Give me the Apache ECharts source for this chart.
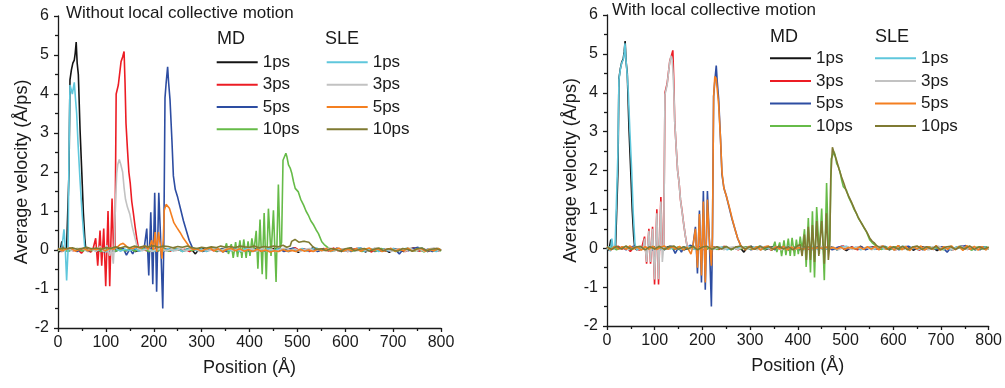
<!DOCTYPE html>
<html><head><meta charset="utf-8">
<script src="https://cdn.jsdelivr.net/npm/echarts@6/dist/echarts.min.js"></script>
<style>html,body{margin:0;padding:0;background:#fff}#c{width:1005px;height:388px}</style>
</head><body><div id="c"></div>
<script>
// ---- data (x in Å, y in Å/ps) ----
const xTicks = [0,100,200,300,400,500,600,700,800];
const yTicks = [-2,-1,0,1,2,3,4,5,6];
const timeLabels = ['1ps','3ps','5ps','10ps'];
const titles = ['Without local collective motion','With local collective motion'];

const mdBlack = [[0,0.02],[4,-0.05],[8,0.22],[11,-0.02],[15,0.03],[18,0.05],[21,0.08],[23,2.0],[25,4.36],[28,4.62],[31,4.79],[34,4.87],[36,5.05],[38,5.33],[40,4.8],[42.5,4.5],[46,3.1],[50,1.9],[53,0.95],[56,0.3],[58,0.02],
[62,-0.04],[72,0.03],[82,-0.05],[92,0.02],[102,0.04],[112,-0.03],[122,0.01],[132,0.05],[142,-0.02],[152,0.03],[162,-0.04],[172,0.02],[182,0.05],[192,-0.03],[202,0.01],[212,0.04],[222,-0.02],[232,0.03],[242,-0.01],[252,0.02],[262,-0.03],[272,0.04],[280,0.0],[287,-0.1],[294,0.02],[302,0.05],[312,-0.02],[322,0.03],[332,-0.04],[342,0.02],[352,0.05],[362,-0.01],[372,0.03],[382,-0.05],[392,0.02],[402,0.04],[412,-0.02],[422,0.03],[432,-0.03],[442,0.01],[452,0.04],[462,-0.02],[472,0.03],[482,-0.04],[492,0.02],[502,-0.06],[512,0.03],[522,-0.02],[532,0.05],[542,-0.03],[552,0.02],[562,0.04],[572,-0.02],[582,0.03],[592,-0.04],[602,0.02],[612,0.05],[622,-0.01],[632,0.03],[642,-0.05],[652,0.02],[662,0.04],[672,-0.03],[682,0.02],[692,-0.06],[702,0.03],[712,0.01],[722,-0.04],[732,0.02],[742,0.05],[752,-0.02],[762,0.03],[772,-0.04],[782,0.02],[792,0.04],[800,-0.01]];

const mdRed = [[0,0.03],[8,-0.04],[16,0.02],[24,0.05],[32,-0.02],[40,0.03],[49,-0.08],[56,0.02],[62,0.04],[68,-0.06],[73,0.02],[76,0.02],[78.7,0.3],[83,-0.4],[87.8,0.5],[91.3,-0.4],[95.5,0.55],[99.7,-0.93],[104.5,1.0],[108,-0.93],[112.9,1.32],[116,0.0],[119,0.1],[121.5,4.0],[126,4.23],[131.7,4.83],[135,4.95],[138,5.09],[140,4.3],[142,3.25],[145,2.6],[148,2.0],[151,1.7],[154,1.25],[157.5,0.94],[161,0.6],[164.5,0.3],[168,0.05],
[175,0.03],[185,-0.02],[195,0.04],[205,-0.05],[215,0.02],[225,0.03],[235,-0.03],[245,0.05],[255,-0.01],[265,0.02],[275,-0.04],[285,0.03],[295,0.01],[305,-0.03],[315,0.04],[325,-0.02],[335,0.02],[345,-0.05],[355,0.03],[365,0.0],[375,0.04],[385,-0.03],[395,0.02],[405,-0.02],[415,0.05],[425,-0.04],[435,0.02],[445,0.03],[455,-0.02],[465,0.04],[475,-0.03],[485,0.02],[495,0.06],[505,-0.02],[515,0.03],[525,-0.04],[535,0.02],[545,0.0],[555,0.04],[565,-0.03],[575,0.05],[585,-0.02],[595,0.03],[605,-0.04],[615,0.02],[625,0.04],[635,-0.03],[645,0.02],[655,-0.05],[665,0.03],[675,0.01],[685,-0.03],[695,0.04],[705,-0.02],[715,0.03],[725,-0.04],[735,0.02],[745,0.05],[755,-0.03],[765,0.02],[775,-0.02],[785,0.04],[795,-0.03],[800,0.01]];

const mdBlue = [[0,0.02],[8,-0.03],[16,0.04],[24,-0.02],[32,0.03],[40,-0.04],[48,0.02],[56,0.05],[64,-0.03],[72,0.02],[80,-0.02],[88,0.04],[96,-0.05],[104,0.02],[112,0.03],[120,-0.04],[128,0.02],[136,0.05],[143,-0.13],[150,0.03],[156,-0.1],[162,0.04],[168,-0.03],[174,0.08],[180,0.05],[185.4,0.55],[189.6,-0.65],[193.8,0.97],[198,-0.88],[202,1.47],[206,-1.07],[210.5,1.47],[214,0.4],[218.8,-1.5],[221,0.2],[223.5,3.9],[226,4.3],[229,4.7],[231,4.3],[234,3.85],[238,2.8],[241,1.9],[245,1.55],[250,1.35],[256,1.05],[262,0.75],[268,0.5],[274,0.25],[280,0.08],[284,0.0],
[292,0.03],[302,-0.04],[312,0.02],[322,0.05],[332,-0.02],[342,0.03],[352,-0.04],[362,0.02],[372,0.04],[382,-0.03],[392,0.02],[402,-0.05],[412,0.03],[422,0.01],[432,-0.03],[442,0.04],[452,-0.02],[462,0.03],[472,-0.04],[482,0.02],[492,0.05],[502,-0.03],[512,0.02],[522,-0.02],[532,0.04],[542,-0.04],[552,0.02],[562,0.03],[572,-0.03],[582,0.05],[592,-0.02],[602,0.02],[612,-0.04],[622,0.03],[632,0.05],[642,-0.02],[652,0.02],[662,-0.04],[672,0.03],[682,0.01],[692,-0.03],[702,0.04],[713,-0.1],[722,0.03],[732,-0.02],[742,0.04],[752,0.07],[762,-0.03],[772,0.02],[782,-0.04],[792,0.03],[800,0.0]];

const mdGreen = [[0,-0.02],[10,0.03],[20,-0.04],[30,0.02],[40,0.04],[50,-0.03],[60,0.02],[70,-0.02],[80,0.03],[90,-0.04],[100,0.02],[110,0.05],[120,-0.03],[130,0.02],[140,-0.02],[150,0.04],[160,-0.03],[170,0.02],[180,0.03],[190,-0.04],[200,0.02],[210,-0.02],[220,0.05],[230,-0.03],[240,0.02],[250,0.03],[260,-0.04],[270,0.02],[280,-0.02],[290,0.04],[300,-0.03],[310,0.02],[320,0.05],[330,-0.03],[340,0.02],[346,-0.05],
[352,0.17],[356,-0.1],[362,0.15],[366,-0.2],[371,0.2],[375,-0.18],[380,0.25],[384,-0.2],[388,0.27],[393,-0.2],[397,0.22],[401,-0.15],[405,0.3],[409,-0.05],[414,0.49],[417.5,-0.48],[422,0.78],[426.5,-0.62],[430.6,0.95],[435,-0.75],[439.5,1.06],[445,-0.15],[450,1.02],[455.5,-0.82],[460.3,1.68],[464,0.05],[467,0.2],[470,2.3],[473,2.35],[476,2.48],[478,2.4],[481.5,2.18],[485,2.1],[488.5,1.96],[492,1.75],[495.5,1.58],[502,1.49],[507,1.3],[513,1.15],[518,1.0],[523,0.89],[528,0.75],[534,0.64],[539,0.52],[544,0.42],[551,0.21],[556,0.14],[562,0.08],[568,0.02],
[575,-0.03],[585,0.03],[595,-0.02],[605,0.04],[615,-0.03],[625,0.02],[635,-0.04],[645,0.03],[655,0.01],[665,-0.03],[675,0.04],[685,-0.02],[695,0.02],[705,-0.04],[715,0.03],[725,-0.02],[735,0.04],[745,-0.03],[755,0.02],[765,-0.05],[775,0.03],[785,-0.02],[795,0.04],[800,-0.03]];

const sleCyanLeft = [[0,0.03],[4,-0.02],[8,0.05],[12.5,0.53],[15,0.1],[18,-0.78],[21,0.0],[23,2.5],[25,4.23],[28,4.26],[30,4.0],[32,4.02],[34,4.3],[35.5,4.32],[37,3.8],[39,3.5],[42,2.7],[46,1.79],[50,1.0],[53,0.5],[56,0.05],
[60,-0.03],[70,0.04],[80,-0.02],[90,0.03],[100,-0.05],[110,0.02],[120,0.04],[130,-0.03],[140,0.02],[150,-0.02],[160,0.05],[170,-0.03],[180,0.02],[190,0.03],[200,-0.04],[210,0.02],[220,-0.03],[230,0.04],[240,-0.02],[250,0.03],[260,-0.04],[270,0.02],[280,0.05],[290,-0.02],[300,0.03],[310,-0.04],[320,0.02],[330,0.03],[340,-0.03],[350,0.04],[360,-0.02],[370,0.03],[380,-0.04],[390,0.02],[400,0.05],[410,-0.03],[420,0.02],[430,-0.02],[440,0.04],[450,-0.03],[460,0.02],[470,0.03],[480,-0.04],[490,0.02],[500,-0.02],[510,0.04],[520,-0.03],[530,0.02],[540,0.05],[550,-0.02],[560,0.03],[570,-0.04],[580,0.02],[590,0.03],[600,-0.03],[610,0.04],[620,-0.02],[630,0.06],[640,-0.03],[650,0.02],[660,0.03],[670,-0.04],[680,0.02],[690,-0.02],[700,0.04],[710,-0.03],[720,0.02],[730,0.05],[740,-0.02],[750,0.03],[760,0.06],[770,-0.03],[780,0.02],[790,-0.04],[800,0.02]];

const sleGreyLeft = [[0,0.01],[10,-0.03],[20,0.04],[30,-0.02],[40,0.03],[50,0.05],[60,-0.03],[70,0.02],[80,-0.04],[88,0.1],[95,-0.05],[102,0.12],[108,-0.15],[112,0.05],[115.5,-0.35],[118,0.2],[120,1.2],[122.7,1.97],[125,2.2],[128,2.32],[131,2.2],[135,2.0],[138,1.6],[141,1.3],[145,1.1],[150,0.92],[155,0.6],[160,0.35],[164,0.15],[168,0.03],
[176,-0.02],[186,0.03],[196,-0.04],[206,0.02],[216,0.04],[226,-0.03],[236,0.02],[246,-0.02],[256,0.05],[266,-0.03],[276,0.02],[286,0.03],[296,-0.04],[306,0.02],[316,-0.02],[326,0.04],[336,-0.03],[346,0.02],[356,0.05],[366,-0.02],[376,0.03],[386,-0.04],[396,0.02],[406,0.03],[416,-0.03],[426,0.04],[436,-0.02],[446,0.02],[456,-0.04],[466,0.03],[476,0.05],[486,-0.02],[496,0.03],[506,-0.04],[516,0.02],[526,0.04],[536,-0.03],[546,0.02],[556,-0.02],[566,0.05],[576,-0.03],[586,0.02],[596,0.03],[606,-0.04],[616,0.02],[626,-0.02],[636,0.04],[646,-0.03],[656,0.02],[666,0.05],[676,-0.02],[686,0.03],[696,-0.04],[706,0.02],[716,0.03],[726,-0.03],[736,0.04],[746,-0.02],[756,0.02],[766,-0.04],[776,0.03],[786,0.05],[796,-0.02],[800,0.01]];

const sleOrangeLeft = [[0,0.04],[9,-0.02],[18,0.03],[27,0.05],[36,-0.03],[45,0.02],[54,0.04],[63,-0.02],[72,0.03],[81,0.01],[90,0.05],[99,-0.03],[108,0.04],[117,0.02],[126,0.1],[131,0.15],[136,0.17],[141,0.12],[146,0.06],[155,0.03],[164,0.08],[173,0.05],[182,0.1],[188,0.02],[192,0.1],[196,0.25],[199,0.0],[203,0.46],[206,-0.05],[210,0.46],[214,0.1],[217,-0.22],[220,0.3],[222,1.02],[225.8,1.17],[229,1.12],[232.7,1.07],[237,0.9],[242,0.7],[248,0.58],[255,0.45],[262,0.3],[269,0.18],[276,0.06],[282,0.01],
[290,0.03],[299,-0.03],[308,0.02],[317,0.05],[326,-0.02],[335,0.03],[344,-0.04],[353,0.02],[362,0.04],[371,-0.02],[380,0.03],[389,-0.03],[398,0.01],[407,-0.04],[416,0.02],[425,-0.03],[434,0.0],[443,-0.05],[452,-0.02],[461,-0.04],[470,0.01],[479,-0.03],[488,-0.01],[497,-0.04],[506,0.02],[515,-0.03],[524,0.0],[533,-0.04],[542,0.02],[551,-0.02],[560,0.04],[569,-0.03],[578,0.02],[587,0.05],[596,-0.03],[605,0.02],[614,-0.02],[623,0.04],[632,-0.03],[641,0.02],[650,0.05],[659,-0.02],[668,0.03],[677,-0.04],[686,0.02],[695,0.04],[704,-0.03],[713,0.02],[722,-0.02],[731,0.05],[740,-0.03],[749,0.02],[758,0.04],[767,-0.03],[776,0.02],[785,-0.02],[794,0.04],[800,0.0]];

const sleOliveLeft = [[0,0.02],[10,0.05],[20,0.03],[30,0.06],[40,0.02],[50,0.04],[60,0.07],[70,0.03],[80,0.05],[90,0.02],[100,0.06],[110,0.04],[120,0.08],[130,0.05],[140,0.09],[150,0.06],[160,0.1],[170,0.07],[180,0.1],[190,0.08],[200,0.11],[210,0.07],[220,0.1],[230,0.09],[240,0.06],[250,0.09],[260,0.07],[270,0.1],[280,0.06],[290,0.04],[300,0.07],[310,0.05],[320,0.08],[330,0.06],[340,0.1],[350,0.07],[360,0.09],[370,0.06],[380,0.1],[390,0.08],[400,0.07],[410,0.1],[420,0.06],[430,0.09],[440,0.07],[450,0.1],[460,0.08],[470,0.12],[478,0.07],
[485,0.1],[488,0.22],[491,0.25],[495,0.27],[499,0.28],[503,0.2],[507,0.17],[511,0.22],[516,0.22],[520,0.18],[524,0.2],[527,0.2],[531,0.1],[534,0.05],[540,0.02],
[550,0.03],[560,-0.02],[570,0.04],[580,0.01],[590,-0.03],[600,0.03],[610,0.05],[620,-0.02],[630,0.02],[640,0.04],[650,-0.03],[660,0.02],[670,0.05],[680,-0.02],[690,0.03],[700,0.0],[710,-0.03],[720,0.04],[730,0.02],[740,-0.03],[750,0.03],[760,0.05],[770,-0.02],[780,0.02],[790,0.04],[800,-0.01]];

const sleCyanRight = [[0,-0.03],[4,0.05],[7,-0.08],[10,0.25],[13,-0.02],[17,0.05],[21,0.1],[23,2.5],[25,4.33],[28,4.6],[30.7,4.76],[34,4.85],[36,5.0],[37.7,5.27],[40,4.8],[42.5,4.45],[44.7,4.0],[48,3.0],[51.7,2.0],[55,0.9],[58.6,0.1],
[62,-0.03],[72,0.02],[82,-0.04],[92,0.03],[102,0.01],[112,-0.03],[122,0.04],[132,-0.02],[142,0.03],[152,-0.04],[162,0.02],[172,0.05],[182,-0.03],[192,0.02],[202,-0.02],[212,0.04],[222,-0.03],[232,0.02],[242,0.03],[252,-0.04],[262,0.02],[272,-0.02],[282,0.05],[292,-0.03],[302,0.02],[312,0.03],[322,-0.04],[332,0.02],[342,-0.02],[352,0.04],[362,-0.03],[372,0.02],[382,0.05],[392,-0.02],[402,0.03],[412,-0.04],[422,0.02],[432,0.03],[442,-0.03],[452,0.04],[462,-0.02],[472,0.02],[482,-0.04],[492,0.03],[502,0.05],[512,-0.02],[522,0.03],[532,-0.04],[542,0.02],[552,0.03],[562,-0.03],[572,0.04],[582,-0.02],[592,0.02],[602,-0.04],[612,0.03],[622,0.05],[632,-0.02],[642,0.03],[652,-0.04],[662,0.02],[672,0.03],[682,-0.03],[692,0.04],[702,-0.02],[712,0.02],[722,-0.04],[732,0.03],[742,0.05],[752,-0.02],[762,0.03],[772,-0.04],[782,0.02],[792,0.03],[800,-0.02]];

const sleGreyRight = [[0,0.02],[9,-0.03],[18,0.04],[27,-0.02],[36,0.03],[45,-0.04],[54,0.02],[63,0.04],[70,-0.05],[76,0.02],[78.7,0.25],[83,-0.35],[87.8,0.45],[91.3,-0.35],[95.5,0.5],[99.7,-0.8],[104.5,0.9],[108,-0.8],[112.9,1.2],[116,-0.35],[119,0.1],[121.5,3.95],[126,4.2],[131,4.75],[134,4.95],[136.5,4.85],[138.5,4.5],[140.5,3.9],[142,3.25],[145,2.6],[148,2.0],[151,1.7],[154,1.25],[157.5,0.92],[161,0.6],[164.5,0.3],[168,0.05],
[175,-0.02],[185,0.04],[195,-0.03],[205,0.02],[215,0.05],[225,-0.02],[235,0.03],[245,-0.04],[255,0.02],[265,0.03],[275,-0.03],[285,0.04],[295,-0.02],[305,0.02],[315,-0.04],[325,0.03],[335,0.05],[345,-0.02],[355,0.03],[365,-0.04],[375,0.02],[385,0.03],[395,-0.03],[405,0.04],[415,-0.02],[425,0.02],[435,-0.04],[445,0.03],[455,0.05],[465,-0.02],[475,0.03],[485,-0.04],[495,0.02],[505,0.03],[515,-0.03],[525,0.04],[535,-0.02],[545,0.02],[555,-0.04],[565,0.03],[575,0.05],[585,-0.02],[595,0.03],[605,-0.04],[615,0.02],[625,0.03],[635,-0.03],[645,0.04],[655,-0.02],[665,0.02],[675,-0.04],[685,0.03],[695,0.05],[705,-0.02],[715,0.03],[725,-0.04],[735,0.02],[745,0.03],[755,-0.03],[765,0.04],[775,-0.02],[785,0.02],[795,-0.04],[800,0.01]];

const sleOrangeRight = [[0,0.03],[8,-0.04],[16,0.05],[24,-0.02],[32,0.04],[40,-0.03],[48,0.06],[56,-0.02],[64,0.03],[72,-0.05],[80,0.04],[88,-0.02],[96,0.05],[104,-0.03],[112,0.02],[120,0.06],[128,-0.03],[136,0.04],[144,-0.02],[152,0.05],[160,-0.04],[168,0.03],[176,-0.15],[180,0.05],[185.4,0.5],[189.6,-0.5],[193.8,0.88],[198,-0.7],[202,1.2],[206,-0.88],[210.5,1.25],[214,0.3],[218.8,-0.45],[221,0.3],[223.5,3.9],[226,4.42],[229,4.35],[231,4.1],[234,3.7],[238,2.8],[241,1.95],[245,1.55],[250,1.35],[256,1.08],[262,0.78],[268,0.5],[274,0.25],[280,0.08],[284,0.02],
[290,-0.04],[298,0.05],[306,-0.03],[314,0.04],[322,-0.05],[330,0.03],[338,0.06],[346,-0.03],[354,0.04],[362,-0.02],[370,0.05],[378,-0.04],[386,0.03],[394,-0.02],[402,0.02],[410,-0.03],[418,0.01],[426,0.03],[434,-0.02],[442,0.02],[450,0.0],[458,0.03],[466,-0.01],[474,0.02],[482,-0.02],[490,0.03],[498,-0.03],[506,0.02],[514,0.01],[522,-0.02],[530,0.03],[538,-0.03],[546,0.04],[554,-0.02],[562,0.05],[570,-0.04],[578,0.06],[586,-0.03],[594,0.05],[602,-0.05],[610,0.07],[618,-0.04],[626,0.05],[634,-0.06],[642,0.04],[650,-0.02],[658,0.06],[666,-0.05],[674,0.04],[682,-0.03],[690,0.07],[698,-0.05],[706,0.04],[714,-0.03],[722,0.06],[730,-0.04],[738,0.05],[746,-0.06],[754,0.07],[762,-0.03],[770,0.05],[778,-0.05],[786,0.04],[794,-0.04],[800,0.03]];

const sleOliveRight = [[0,0.04],[10,-0.03],[20,0.05],[30,-0.02],[40,0.06],[50,-0.03],[60,0.03],[70,0.05],[80,-0.04],[90,0.04],[100,-0.02],[110,0.05],[120,-0.03],[130,0.03],[140,0.06],[150,-0.03],[160,0.04],[170,-0.02],[180,0.05],[190,-0.04],[200,0.03],[210,0.05],[220,-0.03],[230,0.04],[240,-0.02],[250,0.05],[260,-0.03],[270,0.03],[280,0.06],[290,-0.02],[300,0.04],[310,-0.03],[320,0.05],[330,0.0],[340,0.04],[350,-0.03],[360,0.05],[370,-0.02],[380,0.04],[390,-0.04],[398,0.05],
[405,0.1],[409,-0.2],[414,0.35],[418,-0.3],[422,0.55],[426.5,-0.3],[430.6,0.6],[435,-0.35],[439.5,0.7],[444,-0.2],[450,0.7],[455.5,-0.4],[460,0.9],[464,-0.3],[467,0.1],[469,1.8],[472.5,2.6],[476,2.45],[481,2.27],[486,2.05],[491.5,1.84],[497,1.65],[502,1.46],[507,1.33],[512,1.2],[519,1.0],[526,0.81],[533,0.65],[540,0.51],[546,0.38],[551,0.26],[556,0.18],[561,0.13],[566,0.06],[572,0.02],
[580,0.05],[590,-0.03],[600,0.04],[610,-0.02],[620,0.05],[630,-0.04],[640,0.03],[650,0.06],[660,-0.03],[670,0.04],[680,-0.02],[690,0.05],[700,-0.04],[710,0.03],[720,0.05],[730,-0.03],[740,0.04],[750,-0.02],[760,0.06],[770,-0.03],[780,0.04],[790,-0.02],[800,0.03]];

// ---- chart ----
const FONT = '"Liberation Sans", Arial, Helvetica, sans-serif';
const C = {black:'#141414', red:'#ec1c24', blue:'#2d4da2', green:'#66bb48', cyan:'#5fc7dc', grey:'#c2c2c2', orange:'#f47f20', olive:'#7f7a32'};
const mdData = [mdBlack, mdRed, mdBlue, mdGreen];
const mdColors = [C.black, C.red, C.blue, C.green];
const sleColors = [C.cyan, C.grey, C.orange, C.olive];
const sleData = [[sleCyanLeft, sleGreyLeft, sleOrangeLeft, sleOliveLeft],[sleCyanRight, sleGreyRight, sleOrangeRight, sleOliveRight]];

const grids = [
  {left:58, top:16, width:383, height:312},
  {left:607, top:15, width:382, height:311}
];
const axisLineStyle = {color:'#1a1a1a', width:1.3};
function xAx(i){return {type:'value', gridIndex:i, min:0, max:800, interval:100,
  name:'Position (Å)', nameLocation:'middle', nameGap:31,
  nameTextStyle:{fontSize:18, color:'#1a1a1a', fontFamily:FONT},
  axisLine:{show:true, onZero:false, lineStyle:axisLineStyle},
  axisTick:{show:true, inside:false, length:4, lineStyle:axisLineStyle},
  minorTick:{show:true, splitNumber:2, length:3, lineStyle:axisLineStyle},
  axisLabel:{fontSize:16, color:'#1a1a1a', margin:7, fontFamily:FONT},
  splitLine:{show:false}};}
function yAx(i){return {type:'value', gridIndex:i, min:-2, max:6, interval:1,
  name:'Average velocity (Å/ps)', nameLocation:'middle', nameGap:27,
  nameTextStyle:{fontSize:18, color:'#1a1a1a', fontFamily:FONT},
  axisLine:{show:true, onZero:false, lineStyle:axisLineStyle},
  axisTick:{show:true, inside:false, length:4, lineStyle:axisLineStyle},
  minorTick:{show:true, splitNumber:2, length:3, lineStyle:axisLineStyle},
  axisLabel:{fontSize:16, color:'#1a1a1a', margin:9, fontFamily:FONT},
  splitLine:{show:false}};}

const series = [];
function mk(name, data, color, gi){
  series.push({type:'line', name, data, xAxisIndex:gi, yAxisIndex:gi,
    showSymbol:false, symbol:'none', smooth:false, animation:false,
    color, lineStyle:{width:1.6, color}, emphasis:{disabled:true}, z:2});
}
for (let g=0; g<2; g++){
  for (let k=0;k<4;k++) mk('MD '+timeLabels[k], mdData[k], mdColors[k], g);
  for (let k=0;k<4;k++) mk('SLE'+g+' '+timeLabels[k], sleData[g][k], sleColors[k], g);
}

function leg(names, left, top, lh){
  return {orient:'vertical', left, top, padding:0, itemGap:0, itemWidth:41, itemHeight:2,
    icon:'rect', selectedMode:false, data:names,
    formatter: n => n.split(' ')[1],
    textStyle:{fontSize:17, color:'#1a1a1a', fontFamily:FONT, lineHeight:lh, padding:[0,0,0,0]}};
}
const legends = [
  leg(timeLabels.map(t=>'MD '+t), 216.7, 51.2, 22.3),
  leg(timeLabels.map(t=>'SLE0 '+t), 326.7, 51.2, 22.3),
  leg(timeLabels.map(t=>'MD '+t), 770, 47, 22.6),
  leg(timeLabels.map(t=>'SLE1 '+t), 875, 47, 22.6)
];
function ttl(text, left, top, size){
  return {text, left, top, padding:0, textStyle:{fontSize:size, fontWeight:'normal', color:'#1a1a1a', fontFamily:FONT}};
}
const titleList = [
  ttl(titles[0], 66, 4.5, 17),
  ttl(titles[1], 612, 1.5, 17),
  ttl('MD', 217, 30, 18), ttl('SLE', 325, 30, 18),
  ttl('MD', 770, 28.5, 18), ttl('SLE', 875, 28.5, 18)
];

const chart = echarts.init(document.getElementById('c'), null, {renderer:'canvas'});
chart.setOption({
  animation:false, backgroundColor:'#ffffff',
  title: titleList, legend: legends, grid: grids,
  xAxis:[xAx(0), xAx(1)], yAxis:[yAx(0), yAx(1)],
  series
});
</script></body></html>
